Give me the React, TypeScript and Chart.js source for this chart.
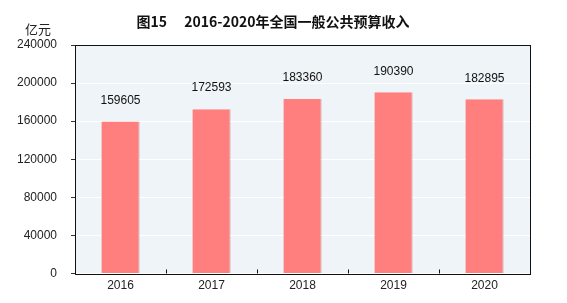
import React, { useEffect, useRef } from "react";
import { Chart, registerables } from "chart.js";

Chart.register(...registerables);

const categories = ["2016", "2017", "2018", "2019", "2020"];
const revenue = [159605, 172593, 183360, 190390, 182895];
const yTicks = [0, 40000, 80000, 120000, 160000, 200000, 240000];
const titleText = "图15\u3000 2016-2020年全国一般公共预算收入";
const unitText = "亿元";

const FONT = "'Liberation Sans', 'Noto Sans CJK SC', sans-serif";

const decorPlugin = {
  id: "decor",
  beforeDraw(chart: any) {
    const { ctx, chartArea } = chart;
    ctx.save();
    ctx.fillStyle = "#ffffff";
    ctx.fillRect(0, 0, chart.width, chart.height);
    ctx.fillStyle = "#EEF4F8";
    ctx.fillRect(chartArea.left, chartArea.top, chartArea.right - chartArea.left, chartArea.bottom - chartArea.top);
    ctx.restore();
  },
  afterDraw(chart: any) {
    const { ctx, chartArea } = chart;
    const x = chart.scales.x;
    ctx.save();
    ctx.strokeStyle = "#111";
    ctx.lineWidth = 1;
    ctx.strokeRect(Math.round(chartArea.left) + 0.5, Math.round(chartArea.top) + 0.5,
      Math.round(chartArea.right - chartArea.left), Math.round(chartArea.bottom - chartArea.top));
    for (let i = 0; i < categories.length - 1; i++) {
      const px = Math.round((x.getPixelForValue(i) + x.getPixelForValue(i + 1)) / 2) + 0.5;
      ctx.beginPath();
      ctx.moveTo(px, chartArea.bottom);
      ctx.lineTo(px, chartArea.bottom - 4);
      ctx.stroke();
    }
    ctx.fillStyle = "#111";
    ctx.textAlign = "center";
    ctx.textBaseline = "middle";
    ctx.font = "bold 14px 'Noto Sans CJK SC', sans-serif";
    ctx.fillText(titleText, 273, 22);
    ctx.font = "13px 'Noto Sans CJK SC', sans-serif";
    ctx.fillStyle = "#222";
    ctx.fillText(unitText, 38, 29);
    const meta = chart.getDatasetMeta(0);
    ctx.font = "12px " + FONT;
    ctx.fillStyle = "#111";
    meta.data.forEach((bar: any, i: number) => {
      ctx.fillText(String(revenue[i]), bar.x, bar.y - 21);
    });
    ctx.restore();
  },
};

export default function App() {
  const ref = useRef<HTMLCanvasElement | null>(null);
  useEffect(() => {
    document.body.style.margin = "0";
    const chart = new Chart(ref.current as HTMLCanvasElement, {
      type: "bar",
      data: {
        labels: categories,
        datasets: [
          {
            data: revenue,
            backgroundColor: "#FF7F7F",
            borderColor: "rgba(190,110,110,0.6)",
            borderWidth: { left: 0, right: 1, top: 0, bottom: 0 },
            barPercentage: 0.84,
            categoryPercentage: 0.5,
          },
        ],
      },
      options: {
        responsive: false,
        animation: false,
        layout: { padding: { top: 45, right: 37, left: 0, bottom: 0 } },
        plugins: { legend: { display: false }, tooltip: { enabled: false }, title: { display: false } },
        scales: {
          x: {
            grid: { display: false, drawTicks: false },
            border: { display: false },
            ticks: { font: { size: 12, family: FONT }, color: "#222", padding: 5 },
            afterFit(scale: any) { scale.height = 29.5; },
          },
          y: {
            min: 0,
            max: 240000,
            afterBuildTicks(scale: any) { scale.ticks = yTicks.map((v) => ({ value: v })); },
            grid: { color: "#ffffff", lineWidth: 1, tickColor: "#333", tickLength: 4, drawTicks: true },
            border: { display: true, color: "#111" },
            ticks: {
              font: { size: 12, family: FONT },
              color: "#222",
              padding: 14,
              callback: (v: any) => String(v),
            },
            afterFit(scale: any) { scale.width = 75; },
          },
        },
      },
      plugins: [decorPlugin],
    } as any);
    return () => chart.destroy();
  }, []);
  return (
    <div style={{ position: "absolute", left: 0, top: 0, width: 567, height: 303 }}>
      <canvas ref={ref} width={567} height={303} style={{ width: 567, height: 303 }} />
    </div>
  );
}
